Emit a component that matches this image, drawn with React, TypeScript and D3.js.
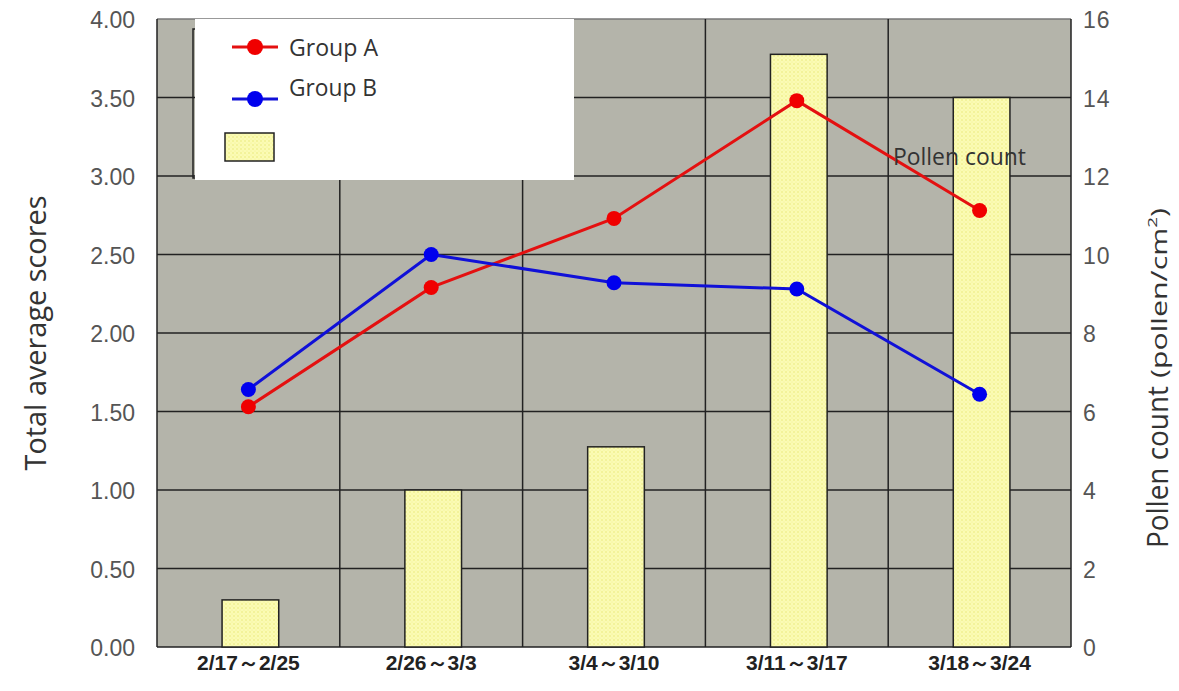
import React from 'react';
import * as d3 from 'd3';

// Data
const periods = ['2/17～2/25', '2/26～3/3', '3/4～3/10', '3/11～3/17', '3/18～3/24'];
const groupA = [1.53, 2.29, 2.73, 3.48, 2.78];
const groupB = [1.64, 2.5, 2.32, 2.28, 1.61];
const pollen = [1.2, 4.0, 5.1, 15.1, 14.0];
const leftTicks = [0, 0.5, 1, 1.5, 2, 2.5, 3, 3.5, 4];
const rightTicks = [0, 2, 4, 6, 8, 10, 12, 14, 16];

const W = 1179;
const H = 691;
const margin = { top: 19, right: 108, bottom: 44, left: 157 };

const App: React.FC = () => {
  const innerW = W - margin.left - margin.right;
  const innerH = H - margin.top - margin.bottom;

  const x = d3.scaleBand<string>().domain(periods).range([0, innerW]);
  const yL = d3.scaleLinear().domain([0, 4]).range([innerH, 0]);
  const yR = d3.scaleLinear().domain([0, 16]).range([innerH, 0]);
  const barW = x.bandwidth() * 0.31;
  const cx = (p: string) => (x(p) ?? 0) + x.bandwidth() / 2;

  const line = d3.line<number>().x((_, i) => cx(periods[i])).y(d => yL(d));

  const tickFont = '"Liberation Sans Narrow", "Liberation Sans", Arial, sans-serif';
  const labelFont = '"Open Sans", "Noto Sans", sans-serif';

  return (
    <svg width={W} height={H} style={{ display: 'block', position: 'absolute', left: 0, top: 0 }}>
      <defs>
        <pattern id="dots" width="4" height="4" patternUnits="userSpaceOnUse">
          <rect width="4" height="4" fill="#fbfbb4" />
          <circle cx="1" cy="1" r="0.8" fill="#eaea7a" />
          <circle cx="3" cy="3" r="0.6" fill="#f2f290" />
        </pattern>
      </defs>
      <rect width={W} height={H} fill="#fff" />
      <g transform={`translate(${margin.left},${margin.top})`}>
        <rect width={innerW} height={innerH} fill="#b4b4aa" />
        {/* horizontal grid */}
        {leftTicks.map(t => (
          <line key={'h' + t} x1={0} x2={innerW} y1={yL(t)} y2={yL(t)} stroke={t === 4 ? '#777' : '#222'} strokeWidth={1.5} />
        ))}
        {/* vertical grid */}
        {d3.range(periods.length + 1).map(i => (
          <line key={'v' + i} x1={i * x.step()} x2={i * x.step()} y1={0} y2={innerH} stroke="#222" strokeWidth={1.5} />
        ))}
        {/* bars */}
        {periods.map((p, i) => (
          <rect key={'b' + p} x={cx(p) - barW / 2 + 2} y={yR(pollen[i])} width={barW} height={innerH - yR(pollen[i])}
            fill="url(#dots)" stroke="#222" strokeWidth={1.5} />
        ))}
        {/* lines */}
        <path d={line(groupA) ?? ''} fill="none" stroke="#e41010" strokeWidth={3} />
        <path d={line(groupB) ?? ''} fill="none" stroke="#1010d8" strokeWidth={3} />
        {groupA.map((v, i) => (
          <circle key={'a' + i} cx={cx(periods[i])} cy={yL(v)} r={7.5} fill="#f00000" />
        ))}
        {groupB.map((v, i) => (
          <circle key={'c' + i} cx={cx(periods[i])} cy={yL(v)} r={7.5} fill="#0000ee" />
        ))}
        {/* left ticks */}
        {leftTicks.map(t => (
          <text key={'lt' + t} x={-22} y={yL(t)} dy="0.4em" textAnchor="end" fontFamily={tickFont}
            fontSize={23} fill="#555">{t.toFixed(2)}</text>
        ))}
        {/* right ticks */}
        {rightTicks.map(t => (
          <text key={'rt' + t} x={innerW + 12} y={yR(t)} dy="0.4em" textAnchor="start" fontFamily={tickFont}
            fontSize={23} fill="#555" letterSpacing={1}>{t}</text>
        ))}
        {/* x labels */}
        {periods.map(p => (
          <text key={'x' + p} x={cx(p)} y={innerH + 23} textAnchor="middle" fontFamily={tickFont}
            fontWeight="bold" fontSize={21} fill="#222">{p}</text>
        ))}
      </g>

      {/* legend */}
      <rect x={193} y={29} width={380} height={149} fill="none" stroke="#222" strokeWidth={1.5} />
      <rect x={195} y={19} width={379} height={161} fill="#fff" />
      <line x1={232} x2={278} y1={47} y2={47} stroke="#e41010" strokeWidth={3} />
      <circle cx={255} cy={47} r={8} fill="#f00000" />
      <text x={289} y={56} fontFamily={labelFont} fontSize={23} textLength={89} lengthAdjust="spacingAndGlyphs" fill="#333">Group A</text>
      <line x1={232} x2={278} y1={99} y2={99} stroke="#1010d8" strokeWidth={3} />
      <circle cx={255} cy={99} r={8} fill="#0000ee" />
      <text x={289} y={96} fontFamily={labelFont} fontSize={23} textLength={88} lengthAdjust="spacingAndGlyphs" fill="#333">Group B</text>
      <rect x={225} y={133} width={49} height={28} fill="url(#dots)" stroke="#222" strokeWidth={1.5} />
      <text x={893} y={165} fontFamily={labelFont} fontSize={24} textLength={133} lengthAdjust="spacingAndGlyphs" fill="#333">Pollen count</text>

      {/* axis titles */}
      <text transform="translate(46,333) rotate(-90)" textAnchor="middle" fontFamily={labelFont} fontSize={29}
        textLength={275} lengthAdjust="spacingAndGlyphs" fill="#333">
        Total average scores
      </text>
      <text transform="translate(1168,548) rotate(-90)" textAnchor="start" fontFamily={labelFont} fontSize={30}
        textLength={162} lengthAdjust="spacingAndGlyphs" fill="#333">
        Pollen count
      </text>
      <text transform="translate(1167,378) rotate(-90)" textAnchor="start" fontFamily={labelFont} fontSize={21}
        textLength={170} lengthAdjust="spacingAndGlyphs" fill="#333">
        (pollen/cm<tspan fontSize={13} dy={-10}>2</tspan><tspan dy={10}>)</tspan>
      </text>
    </svg>
  );
};

export default App;
